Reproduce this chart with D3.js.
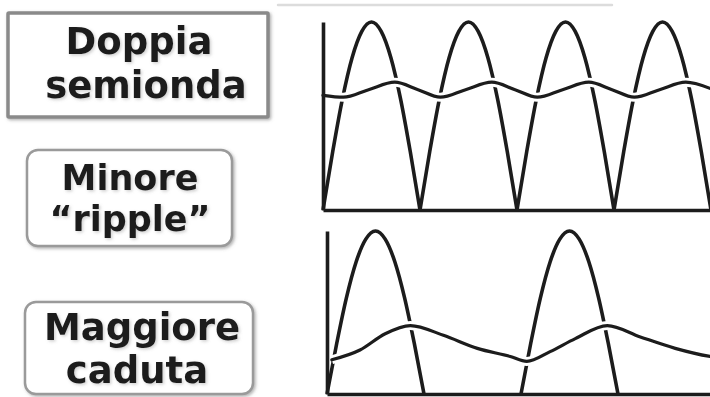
<!DOCTYPE html>
<html>
<head>
<meta charset="utf-8">
<script src="https://cdn.jsdelivr.net/npm/d3@7"></script>
<style>
  html, body { margin: 0; padding: 0; background: #fff; }
  svg { display: block; }
</style>
</head>
<body>
<script>
// tempo in ms (passo 1 ms), 4 semiperiodi da 10 ms
const timeMs = [0,1,2,3,4,5,6,7,8,9,10,11,12,13,14,15,16,17,18,19,20,21,22,23,24,25,26,27,28,29,30,31,32,33,34,35,36,37,38,39,40];

// raddrizzatore a doppia semionda (valori normalizzati)
const fullWave = [0,0.31,0.59,0.81,0.95,1,0.95,0.81,0.59,0.31,0,
                  0.31,0.59,0.81,0.95,1,0.95,0.81,0.59,0.31,0,
                  0.31,0.59,0.81,0.95,1,0.95,0.81,0.59,0.31,0,
                  0.31,0.59,0.81,0.95,1,0.95,0.81,0.59,0.31,0];

// raddrizzatore a singola semionda
const halfWave = [0,0.31,0.59,0.81,0.95,1,0.95,0.81,0.59,0.31,0,
                  0,0,0,0,0,0,0,0,0,0,
                  0.31,0.59,0.81,0.95,1,0.95,0.81,0.59,0.31,0,
                  0,0,0,0,0,0,0,0,0,0];

// tensione filtrata (ripple) - doppia semionda
const rippleFullT = [0,2.1,4.7,7.4,9.8,12.1,14.7,17.4,19.8,22.1,24.7,27.4,29.8,32.1,34.7,37.4,40];
const rippleFullV = [0.61,0.60,0.64,0.68,0.64,0.60,0.64,0.68,0.64,0.60,0.64,0.68,0.64,0.60,0.64,0.68,0.645];

// tensione filtrata - singola semionda
const rippleHalfT = [0.5,3.4,6.0,8.6,12.0,15.5,18.9,20.6,23.0,25.6,28.9,32.3,35.9,39.5,40];
const rippleHalfV = [0.21,0.27,0.37,0.42,0.36,0.28,0.23,0.20,0.26,0.34,0.42,0.35,0.28,0.23,0.225];

const labels = [
  ["Doppia", "semionda"],
  ["Minore", "\u201Cripple\u201D"],
  ["Maggiore", "caduta"]
];

const ink = "#1c1c1c";
const W = 710, H = 397;

const svg = d3.select("body").append("svg")
  .attr("width", W)
  .attr("height", H);

const defs = svg.append("defs");
defs.append("filter").attr("id", "boxShadow")
  .attr("x", "-10%").attr("y", "-10%").attr("width", "120%").attr("height", "120%")
  .append("feDropShadow")
  .attr("dx", 1.5).attr("dy", 1.5).attr("stdDeviation", 1.5)
  .attr("flood-color", "#666").attr("flood-opacity", 0.5);
defs.append("filter").attr("id", "textShadow")
  .attr("x", "-10%").attr("y", "-20%").attr("width", "120%").attr("height", "140%")
  .append("feDropShadow")
  .attr("dx", 1.5).attr("dy", 1.5).attr("stdDeviation", 1.5)
  .attr("flood-color", "#777").attr("flood-opacity", 0.35);

// linea grigia in alto
svg.append("line")
  .attr("x1", 278).attr("x2", 612).attr("y1", 5).attr("y2", 5)
  .style("stroke", "#dcdcdc").style("stroke-width", 2.5)
  .style("stroke-linecap", "round");

// --- etichette ---
const boxes = [
  { x: 8, y: 13, w: 260, h: 104, r: 1, fs: 37, cx: [139, 146], base: [54, 98] },
  { x: 27, y: 150, w: 205, h: 96, r: 11, fs: 35, cx: [130, 130], base: [189.5, 230.5] },
  { x: 25, y: 302, w: 228, h: 92, r: 11, fs: 37, cx: [142, 137], base: [340, 383] }
];

boxes.forEach((b, i) => {
  svg.append("rect")
    .attr("x", b.x).attr("y", b.y)
    .attr("width", b.w).attr("height", b.h)
    .attr("rx", b.r)
    .style("fill", "#fff")
    .style("stroke", i === 0 ? "#8a8a8a" : "#9a9a9a")
    .style("stroke-width", i === 0 ? 3.5 : 2.5)
    .attr("filter", "url(#boxShadow)");

  const t = svg.append("text")
    .attr("text-anchor", "middle")
    .style("font-family", "'DejaVu Sans', Verdana, sans-serif")
    .style("font-weight", "bold")
    .style("font-size", b.fs + "px")
    .style("fill", ink)
    .attr("filter", "url(#textShadow)");

  labels[i].forEach((txt, j) => {
    t.append("tspan")
      .attr("x", b.cx[j])
      .attr("y", b.base[j])
      .text(txt);
  });
});

// --- pannelli ---
function segments(t, v) {
  const segs = [];
  let cur = [];
  for (let i = 0; i < t.length; i++) {
    cur.push([t[i], v[i]]);
    if (v[i] === 0 && cur.length > 1) {
      if (cur.some(p => p[1] > 0)) segs.push(cur);
      cur = [[t[i], v[i]]];
    }
  }
  if (cur.some(p => p[1] > 0)) segs.push(cur);
  return segs;
}

function drawPanel(xRange, yRange, wave, rippleT, rippleV) {
  const x = d3.scaleLinear().domain([0, 40]).range(xRange);
  const y = d3.scaleLinear().domain([0, 1]).range(yRange);
  const g = svg.append("g");

  const line = d3.line()
    .x(d => x(d[0]))
    .y(d => y(d[1]))
    .curve(d3.curveMonotoneX);

  // onda raddrizzata
  g.selectAll(".wave")
    .data(segments(timeMs, wave))
    .enter()
    .append("path")
    .attr("class", "wave")
    .attr("d", line)
    .style("fill", "none")
    .style("stroke", ink)
    .style("stroke-width", 3.6)
    .style("stroke-linejoin", "round");

  // ripple con alone bianco
  const rip = rippleT.map((t, i) => [t, rippleV[i]]);
  g.append("path")
    .attr("d", line(rip))
    .style("fill", "none")
    .style("stroke", "#fff")
    .style("stroke-width", 9);
  g.append("path")
    .attr("d", line(rip))
    .style("fill", "none")
    .style("stroke", ink)
    .style("stroke-width", 3.2)
    .style("stroke-linecap", "round");

  // assi
  const xAxis = g.append("g")
    .attr("transform", `translate(0,${y(0)})`)
    .call(d3.axisBottom(x).ticks(0).tickSizeOuter(0));
  const yAxis = g.append("g")
    .attr("transform", `translate(${x(0)},0)`)
    .call(d3.axisLeft(y).ticks(0).tickSizeOuter(0));
  [xAxis, yAxis].forEach(a => {
    a.select(".domain")
      .style("stroke", ink)
      .style("stroke-width", 3.6);
  });
}

drawPanel([323, 711], [210, 22], fullWave, rippleFullT, rippleFullV);
drawPanel([327, 715], [394, 231], halfWave, rippleHalfT, rippleHalfV);
</script>
</body>
</html>
